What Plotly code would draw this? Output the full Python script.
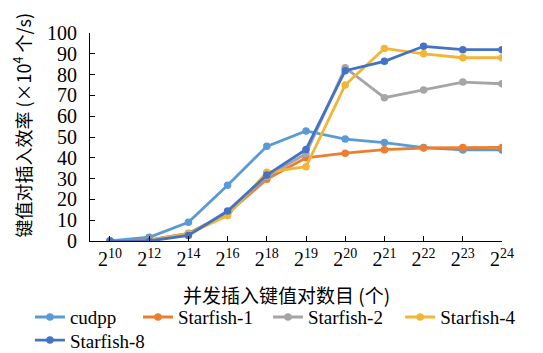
import plotly.graph_objects as go

categories = ["2<sup>10</sup>", "2<sup>12</sup>", "2<sup>14</sup>", "2<sup>16</sup>", "2<sup>18</sup>",
              "2<sup>19</sup>", "2<sup>20</sup>", "2<sup>21</sup>", "2<sup>22</sup>", "2<sup>23</sup>", "2<sup>24</sup>"]
cudpp = [0, 1.8, 9, 26.8, 45.5, 52.9, 49, 47.3, 44.9, 43.8, 43.8]
starfish1 = [0, 0.5, 3.7, 13.3, 29.7, 40, 42.2, 43.9, 44.7, 45, 45]
starfish2 = [0, 0.4, 3.5, 13.5, 31, 42, 83.3, 68.9, 72.6, 76.4, 75.6]
starfish4 = [0, 0.3, 3.4, 12.2, 33, 35.7, 75, 92.6, 90, 88.1, 88.1]
starfish8 = [0, 0, 2.7, 14.4, 31.7, 44, 81.9, 86.4, 93.6, 92, 92]

series_names = ["cudpp", "Starfish-1", "Starfish-2", "Starfish-4", "Starfish-8"]
series_values = [cudpp, starfish1, starfish2, starfish4, starfish8]
series_colors = ["#5B9BD5", "#ED7D31", "#A5A5A5", "#F2B535", "#4472C4"]

serif = "Liberation Serif"
cjk = "Noto Sans CJK SC"

# legend placement (container fractions) for each entry, mimicking the reference's layout
legend_x = [0.041, 0.243, 0.486, 0.733, 0.041]
legend_y = [0.159, 0.159, 0.159, 0.159, 0.092]

fig = go.Figure()
legend_layout = {}
for i, (name, vals, color) in enumerate(zip(series_names, series_values, series_colors)):
    lname = "legend" if i == 0 else f"legend{i + 1}"
    fig.add_trace(go.Scatter(
        x=categories, y=vals, name=name, mode="lines+markers",
        line=dict(color=color, width=2.8),
        marker=dict(color=color, size=7.5),
        legend=lname,
    ))
    legend_layout[lname] = dict(
        orientation="h", xref="container", yref="container",
        x=legend_x[i], y=legend_y[i], xanchor="left", yanchor="top",
        font=dict(family=serif, size=19), itemwidth=30,
        bgcolor="rgba(0,0,0,0)",
    )

# page is offset by the 8px body margin, so the figure is sized/margined to compensate
fig.update_layout(
    width=535, height=345,
    margin=dict(l=82, r=41, t=25, b=112, autoexpand=False),
    plot_bgcolor="white", paper_bgcolor="white",
    font=dict(family=serif, size=17, color="black"),
    showlegend=True,
    xaxis=dict(type="category", range=[-0.51, 10], showline=True, linecolor="black", linewidth=1,
               ticks="inside", ticklen=5, tickcolor="black", showgrid=False, zeroline=False,
               automargin=False, tickfont=dict(family=serif, size=20)),
    yaxis=dict(range=[0, 100], dtick=10, showline=True, linecolor="black", linewidth=1,
               ticks="inside", ticklen=5, tickcolor="black", showgrid=False, zeroline=False,
               automargin=False, tickfont=dict(family=serif, size=20), ticklabelstandoff=8),
    annotations=[
        dict(text="并发插入键值对数目 (个)", xref="paper", yref="paper", x=0.478, y=-0.2596,
             xanchor="center", yanchor="middle", showarrow=False,
             font=dict(family=cjk, size=19, color="black")),
        dict(text="键值对插入效率 (×10<sup>4</sup> 个/s)", xref="paper", yref="paper", x=-0.165, y=0.555,
             xanchor="center", yanchor="middle", showarrow=False, textangle=-90,
             font=dict(family=cjk, size=18, color="black")),
    ],
)
fig.update_layout(**legend_layout)

fig.write_html("out.html")
